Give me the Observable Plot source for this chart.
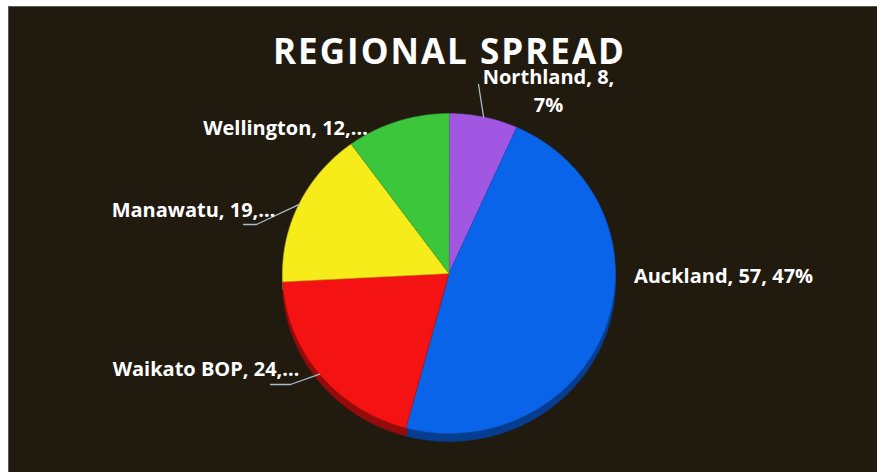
<!DOCTYPE html>
<html><head><meta charset="utf-8">
<script src="https://cdn.jsdelivr.net/npm/d3@7"></script>
<script src="https://cdn.jsdelivr.net/npm/@observablehq/plot@0.6"></script>
<style>
html,body{margin:0;padding:0;background:#fff;}
#wrap{position:relative;width:877px;height:472px;overflow:hidden;}
#title{position:absolute;left:0;width:899px;top:38px;text-align:center;color:#fff;font-family:'Open Sans';font-weight:700;font-size:35px;line-height:26px;letter-spacing:2px;z-index:2;}
#chart{position:absolute;left:0;top:0;}
</style>
</head><body>
<div id="wrap"><div id="title">REGIONAL SPREAD</div><div id="chart"></div></div>
<script>
// ---- data ----
const regions = ["Northland", "Auckland", "Waikato BOP", "Manawatu", "Wellington"];
const counts = [8, 57, 24, 19, 12];
const percents = [7, 47, 20, 16, 10];
const labels = ["Northland, 8,\n7%", "Auckland, 57, 47%", "Waikato BOP, 24,…", "Manawatu, 19,…", "Wellington, 12,…"];
const colors = ["#a257e3", "#0a64ea", "#f41212", "#f6ec1a", "#3cc63c"];

// ---- layout ----
const W = 877, H = 472, padLeft = 8, padTop = 6;
const cx = 448.5, cy = 273, rx = 166.5, ry = 160, depth = 8;
// label centres and leader bend points, in pixels relative to the pie centre (y up)
const labelLayout = {
  "Northland":   {dx: 99.5,  dy: 184, leader: [[29.5, 189]]},
  "Auckland":    {dx: 274.5, dy: -1,  leader: []},
  "Waikato BOP": {dx: -243,  dy: -94, leader: [[-158.5, -111], [-178.5, -111]]},
  "Manawatu":    {dx: -255.5,dy: 65,  leader: [[-192.5, 49], [-205.5, 49]]},
  "Wellington":  {dx: -163.5,dy: 147, leader: []}
};

const arcs = d3.pie().sort(null)(counts);
const pt = (a, dyOff = 0) => ({x: rx * Math.sin(a), y: ry * Math.cos(a) + dyOff});

function slicePoints(offset, shade) {
  const out = [];
  arcs.forEach((arc, i) => {
    const col = shade ? d3.color(colors[i]).darker(1.4).formatHex() : colors[i];
    const n = Math.max(2, Math.ceil((arc.endAngle - arc.startAngle) / (Math.PI / 360)));
    out.push({region: regions[i], col, x: 0, y: offset});
    for (let k = 0; k <= n; k++) {
      const a = arc.startAngle + (arc.endAngle - arc.startAngle) * k / n;
      out.push({region: regions[i], col, ...pt(a, offset)});
    }
  });
  return out;
}

const sideData = slicePoints(-depth, true);
const topData = slicePoints(0, false);

const labelData = regions.map((r, i) => ({region: r, text: labels[i], x: labelLayout[r].dx, y: labelLayout[r].dy}));
const leaderData = [];
arcs.forEach((arc, i) => {
  const L = labelLayout[regions[i]].leader;
  if (!L.length) return;
  const mid = (arc.startAngle + arc.endAngle) / 2;
  leaderData.push({region: regions[i], ...pt(mid)});
  L.forEach(([x, y]) => leaderData.push({region: regions[i], x, y}));
});

const chart = Plot.plot({
  width: W, height: H,
  marginLeft: padLeft, marginTop: padTop, marginRight: 0, marginBottom: 0,
  x: {domain: [padLeft - cx, W - cx], axis: null},
  y: {domain: [cy - H, cy - padTop], axis: null},
  color: {type: "identity"},
  style: {background: "transparent"},
  marks: [
    Plot.frame({fill: "#211a0f", stroke: "#5a5a5a"}),
    Plot.line(sideData, {x: "x", y: "y", z: "region", fill: "col", stroke: "col", strokeWidth: 0.6, curve: "linear-closed"}),
    Plot.line(topData, {x: "x", y: "y", z: "region", fill: "col", stroke: d => d3.color(d.col).darker(0.8).formatHex(), strokeWidth: 0.6, curve: "linear-closed"}),
    Plot.line(leaderData, {x: "x", y: "y", z: "region", stroke: "#a9bccc", strokeWidth: 1.3}),
    Plot.text(labelData, {x: "x", y: "y", text: "text", fill: "#ffffff", fontFamily: "Open Sans", fontWeight: 700, fontSize: 20, lineHeight: 1.4, textAnchor: "middle"})
  ]
});
document.getElementById("chart").appendChild(chart);
</script>
</body></html>
